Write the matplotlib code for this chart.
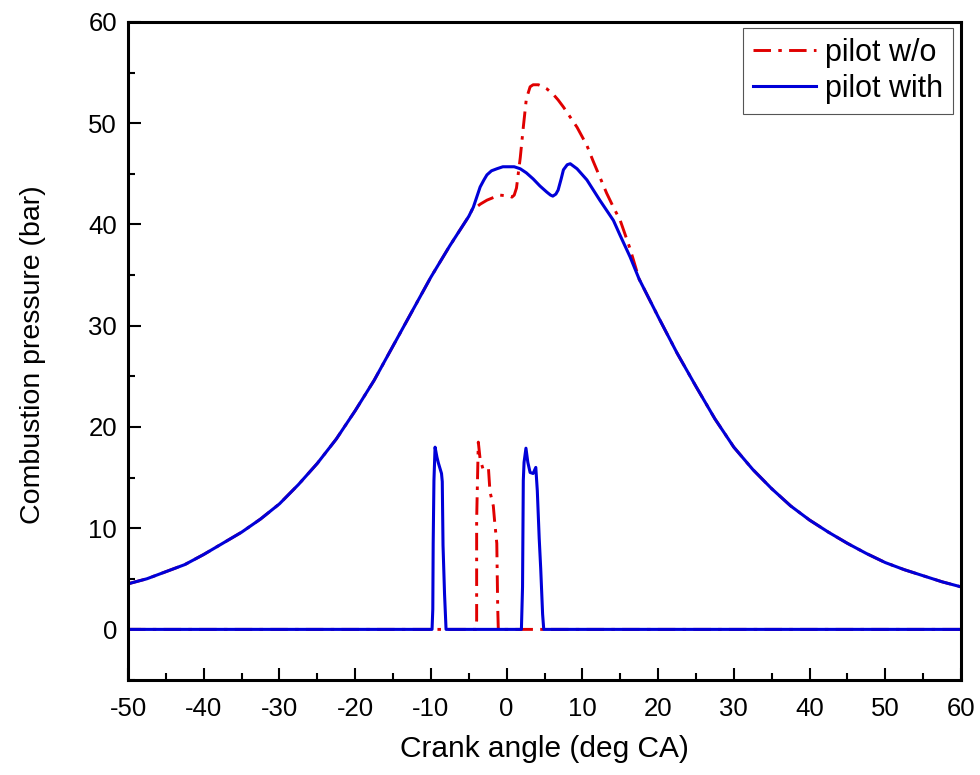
import matplotlib
matplotlib.use("Agg")
import matplotlib.pyplot as plt
from matplotlib.ticker import MultipleLocator

plt.rcParams['font.family'] = ['Liberation Sans', 'DejaVu Sans']
plt.rcParams['axes.unicode_minus'] = False

# ---- data ----
angle_with = [-50, -47.5, -45, -42.5, -40, -37.5, -35, -32.5, -30, -27.5, -25, -22.5,
              -20, -17.5, -15, -12.5, -10, -7.5, -5, -4.4, -3.5, -3.0, -2.6, -2.0, -1.3,
              -0.5, 0.4, 1.0, 1.8, 2.6, 3.5, 4.4, 5.3, 5.8, 6.1, 6.5, 6.8, 7.2, 7.5, 8.0,
              8.4, 9.3, 10.6, 12.3, 14.1, 15.0, 16.3, 17.5, 20, 22.5, 25, 27.5, 30, 32.5,
              35, 37.5, 40, 42.5, 45, 47.5, 50, 52.5, 55, 57.5, 60]
p_with = [4.5, 5.0, 5.7, 6.4, 7.4, 8.5, 9.6, 10.9, 12.4, 14.3, 16.4, 18.8,
          21.6, 24.6, 28.0, 31.4, 34.8, 37.9, 40.8, 41.7, 43.7, 44.4, 44.9, 45.3, 45.5,
          45.7, 45.7, 45.7, 45.5, 45.1, 44.5, 43.8, 43.2, 42.9, 42.8, 43.0, 43.4, 44.5, 45.4, 45.9,
          46.0, 45.5, 44.4, 42.4, 40.4, 38.9, 36.8, 34.6, 30.9, 27.3, 24.0, 20.8, 18.0, 15.8,
          13.9, 12.2, 10.8, 9.6, 8.5, 7.5, 6.6, 5.9, 5.3, 4.7, 4.2]

angle_without = [-50, -47.5, -45, -42.5, -40, -37.5, -35, -32.5, -30, -27.5, -25, -22.5,
                 -20, -17.5, -15, -12.5, -10, -7.5, -5, -4.4, -4.0, -3.5, -2.6, -1.3, -0.9,
                 0.4, 0.7, 1.0, 1.3, 1.8, 2.2, 2.6, 3.1, 3.5, 4.2, 4.8, 5.3, 6.1, 6.8, 7.5,
                 8.4, 9.3, 10.6, 11.4, 12.3, 13.2, 14.1, 15.0, 16.3, 17.5, 20, 22.5, 25, 27.5,
                 30, 32.5, 35, 37.5, 40, 42.5, 45, 47.5, 50, 52.5, 55, 57.5, 60]
p_without = [4.5, 5.0, 5.7, 6.4, 7.4, 8.5, 9.6, 10.9, 12.4, 14.3, 16.4, 18.8,
             21.6, 24.6, 28.0, 31.4, 34.8, 37.9, 40.8, 41.7, 41.7, 42.0, 42.4, 42.8, 42.9,
             42.8, 42.7, 42.9, 43.6, 46.6, 49.6, 52.4, 53.6, 53.8, 53.8, 53.6, 53.4, 52.9, 52.3, 51.6,
             50.6, 49.6, 47.8, 46.3, 44.7, 43.1, 41.7, 40.4, 37.6, 34.6, 30.9, 27.3, 24.0, 20.8,
             18.0, 15.8, 13.9, 12.2, 10.8, 9.6, 8.5, 7.5, 6.6, 5.9, 5.3, 4.7, 4.2]

inj_angle_with = [-50, -9.85, -9.75, -9.7, -9.6, -9.45, -9.2, -9.0, -8.6, -8.5, -8.4, -8.2,
                  -8.0, 1.95, 2.1, 2.2, 2.3, 2.55, 2.8, 3.1, 3.5, 3.85, 4.05, 4.3, 4.5,
                  4.75, 4.9, 60]
inj_with = [0, 0, 2.0, 8.5, 14.7, 18.0, 17.0, 16.4, 15.4, 14.6, 8.3, 3.5,
            0, 0, 4.2, 14.7, 16.5, 17.9, 16.5, 15.5, 15.4, 16.0, 13.7, 9.0, 6.0,
            1.5, 0, 0]

inj_angle_without = [-50, -4.05, -3.96, -3.96, -3.85, -3.74, -3.5, -3.1, -2.4, -2.2, -1.76,
                     -1.6, -1.3, -1.18, -1.1, 60]
inj_without = [0, 0, 0.9, 10.8, 14.7, 18.5, 16.8, 15.8, 15.9, 13.6, 12.2,
               10.8, 8.5, 2.2, 0, 0]

labels = ["pilot w/o", "pilot with"]
red = '#e00000'
blue = '#0000d8'

# ---- figure ----
fig = plt.figure(figsize=(9.8, 7.75), dpi=100)
ax = fig.add_axes([128/980, 1-680/775, (961-128)/980, (680-22)/775])

dashdot = (0, (6, 2.5, 1.2, 2.5))
ax.plot(angle_without, p_without, color=red, lw=2.1, ls=dashdot, label=labels[0])
ax.plot(inj_angle_without, inj_without, color=red, lw=2.1, ls=dashdot)
ax.plot(angle_with, p_with, color=blue, lw=2.2, label=labels[1])
ax.plot(inj_angle_with, inj_with, color=blue, lw=2.2)

ax.set_xlim(-50, 60)
ax.set_ylim(-5, 60)
ax.xaxis.set_major_locator(MultipleLocator(10))
ax.xaxis.set_minor_locator(MultipleLocator(5))
ax.yaxis.set_minor_locator(MultipleLocator(5))
ax.set_yticks([0, 10, 20, 30, 40, 50, 60])

ax.tick_params(which='both', direction='in', top=False, right=False, width=1.5)
ax.tick_params(which='major', length=9, labelsize=18.5)
ax.tick_params(axis='y', which='major', pad=8)
ax.tick_params(axis='x', which='major', pad=12)
ax.tick_params(which='minor', length=5)
for s in ax.spines.values():
    s.set_linewidth(2.2)

ax.set_xlabel("Crank angle (deg CA)", fontsize=21.5)
ax.set_ylabel("Combustion pressure (bar)", fontsize=20.5)
ax.xaxis.set_label_coords(0.5, -0.083)
ax.yaxis.set_label_coords(-0.099, 0.495)

leg = ax.legend(loc='upper right', bbox_to_anchor=(0.990, 0.991), borderaxespad=0,
                fontsize=22, handlelength=2.05, handletextpad=0.3, labelspacing=0.2,
                borderpad=0.32, fancybox=False, framealpha=1)
leg.get_frame().set_edgecolor('#555555')
leg.get_frame().set_linewidth(0.8)

fig.savefig("out.png", dpi=100)
